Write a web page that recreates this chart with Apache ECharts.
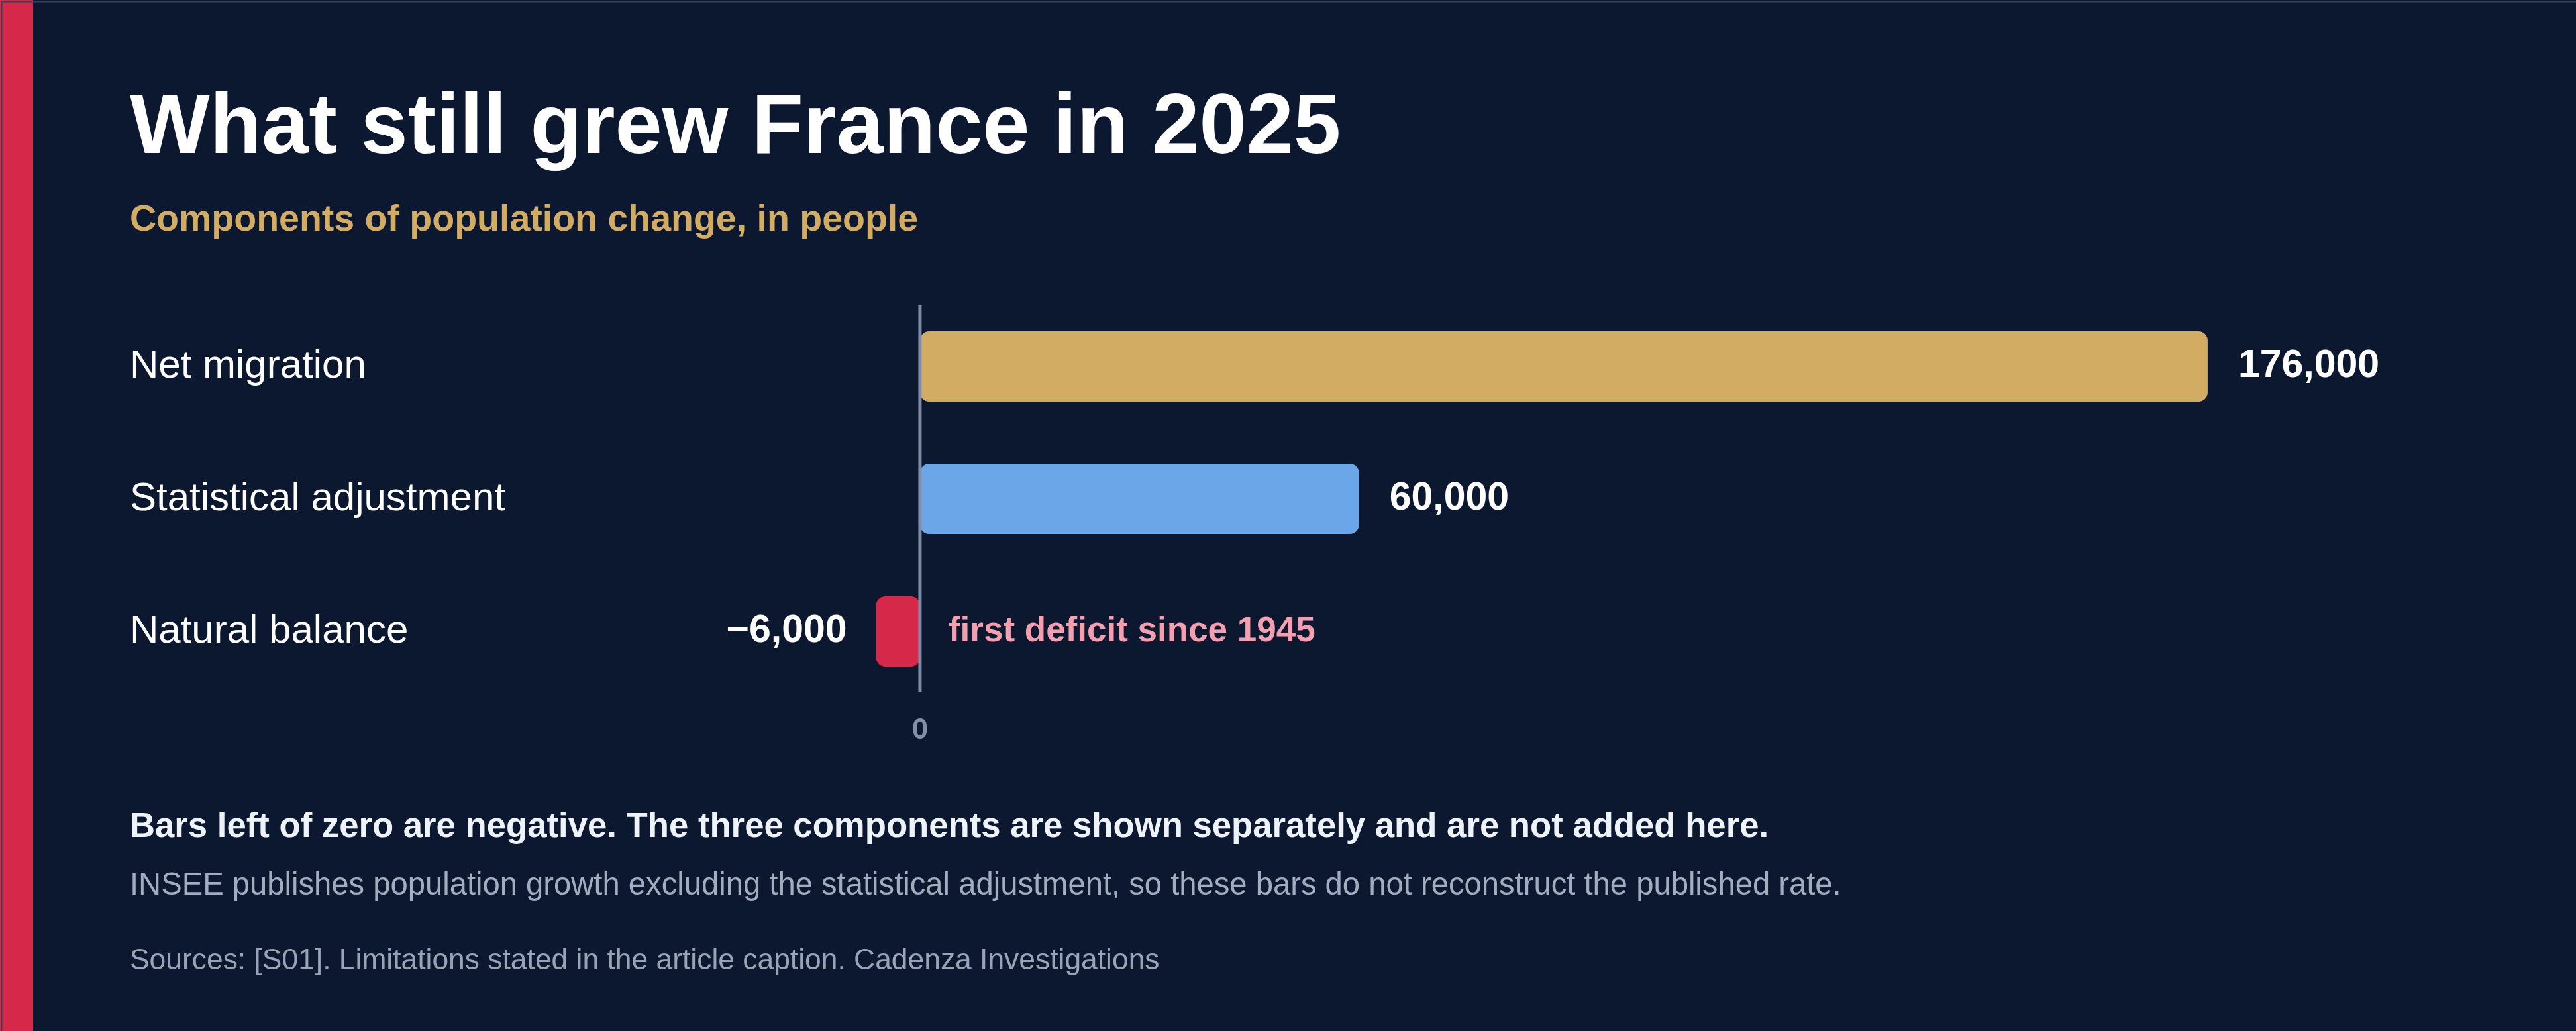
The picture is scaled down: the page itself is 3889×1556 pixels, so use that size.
<!DOCTYPE html>
<html>
<head>
<meta charset="utf-8">
<title>What still grew France in 2025</title>
<script src="https://cdn.jsdelivr.net/npm/echarts@6/dist/echarts.min.js"></script>
<style>
  html, body { margin: 0; padding: 0; background: #0c1830; }
  #chart { width: 3889px; height: 1556px; }
</style>
</head>
<body>
<div id="chart"></div>
<script>
// data
const categories = ['Net migration', 'Statistical adjustment', 'Natural balance'];
const values = [176000, 60000, -6000];
const barColors = ['#d3ac64', '#6ba6e8', '#d62849'];
const annotations = [{ category: 'Natural balance', text: 'first deficit since 1945' }];

const FONT = '"Liberation Sans", Arial, sans-serif';

function fmt(v) {
  const s = Math.abs(v).toLocaleString('en-US');
  return v < 0 ? '\u2212' + s : s;
}

const chart = echarts.init(document.getElementById('chart'), null, { renderer: 'canvas' });

const option = {
  backgroundColor: '#0c1830',
  animation: false,
  title: [
    {
      text: 'What still grew France in 2025',
      left: 196, top: 132, padding: 0,
      textStyle: { color: '#ffffff', fontFamily: FONT, fontWeight: 'bold', fontSize: 128, lineHeight: 128 }
    },
    {
      text: 'Components of population change, in people',
      left: 196, top: 305, padding: 0,
      textStyle: { color: '#d3ac64', fontFamily: FONT, fontWeight: 'bold', fontSize: 55.5, lineHeight: 55 }
    },
    {
      text: 'Bars left of zero are negative. The three components are shown separately and are not added here.',
      left: 196, top: 1222, padding: 0,
      textStyle: { color: '#eef2f9', fontFamily: FONT, fontWeight: 'bold', fontSize: 52.7, lineHeight: 53 }
    },
    {
      text: 'INSEE publishes population growth excluding the statistical adjustment, so these bars do not reconstruct the published rate.',
      left: 196, top: 1313, padding: 0,
      textStyle: { color: '#a3adc0', fontFamily: FONT, fontWeight: 'normal', fontSize: 47.2, lineHeight: 47 }
    },
    {
      text: 'Sources: [S01]. Limitations stated in the article caption. Cadenza Investigations',
      left: 196, top: 1429, padding: 0,
      textStyle: { color: '#9aa4b7', fontFamily: FONT, fontWeight: 'normal', fontSize: 44.4, lineHeight: 44 }
    }
  ],
  graphic: [
    { type: 'rect', left: 0, top: 0, shape: { width: 50, height: 1556 }, style: { fill: '#d62849' } },
    { type: 'rect', left: 0, top: 0, z: 100, shape: { width: 3888, height: 1555 },
      style: { fill: 'none', stroke: '#35405a', lineWidth: 2 } }
  ],
  grid: { left: 1168, right: 291, top: 453, height: 600 },
  xAxis: {
    type: 'value',
    min: -20000, max: 200000, interval: 20000,
    splitLine: { show: false },
    axisLine: { show: false },
    axisTick: { show: false },
    axisLabel: {
      margin: 28,
      color: '#8390a8',
      fontFamily: FONT, fontWeight: 'bold', fontSize: 44,
      formatter: v => (v === 0 ? '0' : '')
    }
  },
  yAxis: {
    type: 'category',
    data: categories,
    inverse: true,
    axisTick: { show: false },
    axisLine: { show: false },
    axisLabel: {
      align: 'left',
      margin: 1168 - 196,
      padding: [12, 0, 0, 0],
      color: '#ffffff',
      fontFamily: FONT, fontSize: 60
    }
  },
  series: [
    {
      type: 'bar',
      barWidth: 106,
      z: 2,
      data: values.map((v, i) => ({
        value: v,
        itemStyle: { color: barColors[i], borderRadius: 14 },
        label: {
          show: true,
          position: v < 0 ? 'left' : 'right',
          distance: v < 0 ? 44 : 46,
          padding: [12, 0, 0, 0],
          formatter: () => fmt(v),
          color: '#ffffff',
          fontFamily: FONT, fontWeight: 'bold', fontSize: 59
        }
      }))
    },
    {
      // zero line, a little shorter than the category bands
      type: 'custom',
      z: 5,
      silent: true,
      data: [[0, categories[0]]],
      renderItem: (params, api) => {
        const first = api.coord([0, 0]);
        const last = api.coord([0, categories.length - 1]);
        const band = api.size([0, 1])[1];
        return {
          type: 'line',
          shape: { x1: first[0], y1: first[1] - band / 2 + 8, x2: last[0], y2: last[1] + band / 2 - 9 },
          style: { stroke: '#7f8ca6', lineWidth: 5 }
        };
      }
    },
    {
      type: 'scatter',
      symbolSize: 0,
      silent: true,
      itemStyle: { opacity: 1 },
      data: annotations.map(a => [0, a.category]),
      label: {
        show: true,
        position: 'right',
        distance: 43,
        padding: [12, 0, 0, 0],
        formatter: p => annotations[p.dataIndex].text,
        color: '#f49fb0',
        fontFamily: FONT, fontWeight: 'bold', fontSize: 53
      }
    }
  ]
};

chart.setOption(option);
</script>
</body>
</html>
